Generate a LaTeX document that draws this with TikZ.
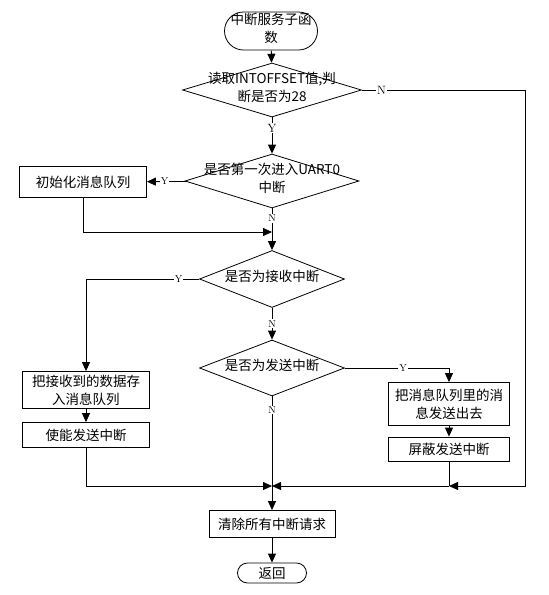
\documentclass[tikz,border=0pt]{standalone}
\usepackage{fontspec}
\newfontfamily\cjk{Noto Sans CJK SC}
\usetikzlibrary{shapes.geometric,shapes.misc,arrows.meta}

\newcommand{\dtxt}[1]{\raisebox{-.3em}{\smash{\makebox[0pt]{\begin{tabular}{@{}c@{}}#1\end{tabular}}}}} % text that does not size its node

\begin{document}
\begin{tikzpicture}[x=1pt,y=-1pt, % pixel units, y pointing down
  font=\cjk\fontsize{13.5}{18}\selectfont,
  line width=0.8pt,
  >={Triangle[length=9pt,width=8pt]},
  box/.style={draw, rectangle, inner sep=0pt, align=center},
  test/.style={draw, diamond, inner sep=0pt},
  term/.style={draw, rounded rectangle, inner sep=0pt},
  lbl/.style={fill=white, inner sep=1pt, font=\rmfamily\fontsize{10}{10}\selectfont}]
\useasboundingbox (0,0) rectangle (549,595);

\node[term, minimum width=93, minimum height=38] (start) at (271,31) {\dtxt{中断服务子函\\数}};
\node[test, minimum width=179, minimum height=54] (d1) at (272,90) {\dtxt{读取INTOFFSET值,判\\断是否为28}};
\node[test, minimum width=174, minimum height=54] (d2) at (272,181) {\dtxt{是否第一次进入UART0\\中断}};
\node[box, minimum width=127, minimum height=31] (init) at (83,182) {初始化消息队列};
\node[test, minimum width=145, minimum height=57] (d3) at (272,279) {\dtxt{是否为接收中断}};
\node[test, minimum width=145, minimum height=56] (d4) at (272,368) {\dtxt{是否为发送中断}};
\node[box, minimum width=127, minimum height=37] (recv) at (86,390) {把接收到的数据存\\入消息队列};
\node[box, minimum width=127, minimum height=25] (enable) at (86,435) {使能发送中断};
\node[box, minimum width=121, minimum height=43] (send) at (449,404) {把消息队列里的消\\息发送出去};
\node[box, minimum width=121, minimum height=24] (mask) at (449,449) {屏蔽发送中断};
\node[box, minimum width=126, minimum height=27] (clear) at (272,524) {清除所有中断请求};
\node[term, minimum width=69, minimum height=20] (ret) at (272,573) {返回};

\coordinate (j1) at (272,232); % joins of the main line
\coordinate (j2) at (272,486);
\coordinate (j3) at (449,486);
\coordinate (rr) at (525,486); % right rail

\draw[->] (start) -- (d1);
\draw[->] (d1) -- node[lbl, pos=.3, font=\rmfamily\fontsize{12}{12}\selectfont] {Y} (d2);
\draw[->] (d2) -- node[lbl, pos=.55] {Y} (init);
\draw[->] (init) |- (j1);
\draw[->] (d2) -- node[lbl, pos=.24] {N} (d3);
\draw[->] (d3.west) -| node[lbl, pos=.09] {Y} (recv.north);
\draw[->] (recv) -- (enable);
\draw[->] (enable) |- (j2);
\draw[->] (d3) -- node[lbl, pos=.5] {N} (d4);
\draw[->] (d4.east) -| node[lbl, pos=.28] {Y} (send.north);
\draw[->] (send) -- (mask);
\draw (mask) -- (j3);
\draw[->] (d1.east) -- node[lbl, pos=.12, font=\rmfamily\fontsize{12}{12}\selectfont] {N} (d1.east -| rr) -- (rr) -- (j3);
\draw[->] (j3) -- (j2);
\draw[->] (d4) -- node[lbl, pos=.12] {N} (clear);
\draw[->] (clear) -- (ret);
\end{tikzpicture}
\end{document}
